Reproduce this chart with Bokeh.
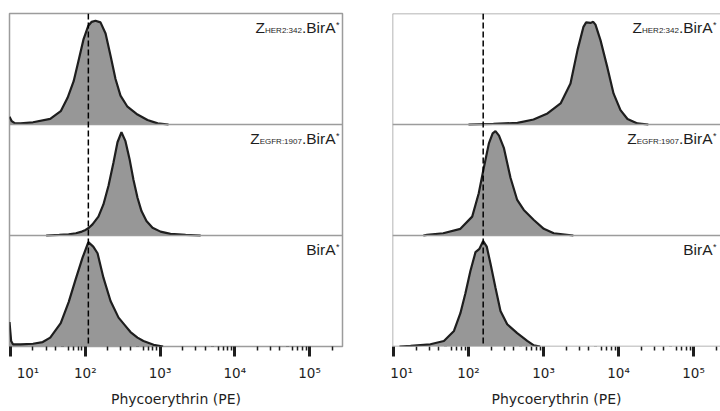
from bokeh.plotting import figure
from bokeh.models import Range1d, Span, Label, LogAxis, FixedTicker, ColumnDataSource
from bokeh.layouts import row
from bokeh.embed import file_html
from bokeh.resources import INLINE

# ---------------- data ----------------
axis_title = "Phycoerythrin (PE)"
decade_ticks = [10, 100, 1000, 10000, 100000]
decade_labels = ["\u2003\u200910\u00b9", "10\u00b2", "10\u00b3", "10\u2074", "10\u2075"]
minor_ticks = [20, 30, 40, 60, 70, 80, 90,
               200, 300, 400, 600, 700, 800, 900,
               2000, 3000, 4000, 6000, 7000, 8000, 9000,
               20000, 30000, 40000, 60000, 70000, 80000, 90000,
               200000]
half_ticks = [50, 500, 5000, 50000]

# rows from top to bottom: binder name in subscript (None = BirA* alone)
row_binders = ["HER2:342", "EGFR:1907", None]

# left column, histograms: x = PE intensity, h = relative count (fraction of panel height)
L_her2_x = [9.7, 10.4, 11.5, 13.6, 20, 34, 47, 58, 70, 81, 95, 110, 122, 137, 160, 187, 218, 254, 296, 367, 500, 680, 930, 1300]
L_her2_h = [0.07, 0.03, 0.01, 0.01, 0.02, 0.05, 0.12, 0.24, 0.39, 0.57, 0.77, 0.89, 0.925, 0.935, 0.92, 0.82, 0.62, 0.41, 0.26, 0.16, 0.09, 0.04, 0.01, 0]
L_egfr_x = [30, 45, 60, 75, 90, 101, 112, 125, 150, 175, 205, 239, 270, 305, 345, 391, 442, 500, 565, 659, 794, 1016, 1381, 2200, 3500]
L_egfr_h = [0, 0.005, 0.01, 0.02, 0.035, 0.05, 0.07, 0.10, 0.17, 0.28, 0.45, 0.66, 0.84, 0.93, 0.85, 0.69, 0.50, 0.34, 0.22, 0.13, 0.07, 0.035, 0.015, 0.005, 0]
L_bira_x = [9.7, 10.2, 10.8, 13.6, 20, 27, 34, 47, 60, 74, 92, 110, 128, 146, 175, 218, 279, 340, 403, 500, 600, 820, 1100]
L_bira_h = [0.22, 0.05, 0.02, 0.02, 0.025, 0.04, 0.08, 0.21, 0.40, 0.60, 0.80, 0.94, 0.90, 0.84, 0.62, 0.41, 0.26, 0.19, 0.13, 0.08, 0.05, 0.015, 0]
L_control_peak = 110

# right column
R_her2_x = [100, 215, 450, 736, 1130, 1690, 2290, 2840, 3410, 3700, 4230, 4600, 4930, 5750, 7130, 8580, 10630, 13180, 17900, 25000]
R_her2_h = [0, 0.005, 0.015, 0.045, 0.10, 0.19, 0.37, 0.67, 0.88, 0.92, 0.915, 0.925, 0.90, 0.76, 0.51, 0.28, 0.13, 0.05, 0.01, 0]
R_egfr_x = [25, 28, 46, 78, 112, 137, 160, 187, 210, 229, 255, 296, 363, 446, 546, 743, 1009, 1371, 2500]
R_egfr_h = [0, 0.005, 0.02, 0.06, 0.17, 0.38, 0.61, 0.83, 0.92, 0.94, 0.90, 0.79, 0.52, 0.32, 0.23, 0.14, 0.06, 0.02, 0]
R_bira_x = [12, 16.9, 31, 47, 64, 78, 91, 106, 124, 140, 157, 175, 196, 229, 267, 328, 446, 607, 743, 900]
R_bira_h = [0, 0.005, 0.02, 0.05, 0.14, 0.30, 0.48, 0.68, 0.85, 0.88, 0.95, 0.90, 0.75, 0.53, 0.32, 0.20, 0.12, 0.05, 0.01, 0]
R_control_peak = 157

# ---------------- styling helpers ----------------
FILL = "#979797"
FRAME = "#9c9c9c"
INK = "#1e1e1e"

ARIAL_W = {'Z': 611, 'H': 722, 'E': 667, 'R': 722, '2': 556, ':': 278, '3': 556, '4': 556,
           'G': 778, 'F': 611, '1': 556, '9': 556, '0': 556, '7': 556, '.': 278,
           'B': 667, 'i': 222, 'r': 333, 'A': 667, '*': 389}


def tw(s, size):
    return sum(ARIAL_W.get(c, 556) for c in s) / 1000.0 * size


def add_label(p, x_end, y, text, size, off, yoff):
    p.add_layout(Label(x=x_end, y=y, text=text, x_offset=off, y_offset=yoff,
                       text_align="right", text_baseline="alphabetic",
                       text_font="Liberation Sans", text_font_size=f"{size}px",
                       text_color=INK))


def panel_labels(p, x_end, pad):
    main, sub, sup = 15.5, 8, 9
    for i, binder in enumerate(row_binders):
        y = 3 - i
        off = pad
        add_label(p, x_end, y, "*", sup, off, -11)
        off -= tw("*", sup) + 0.5
        add_label(p, x_end, y, "BirA", main, off, -14)
        off -= tw("BirA", main)
        if binder:
            add_label(p, x_end, y, ".", main, off, -14)
            off -= tw(".", main)
            add_label(p, x_end, y, binder, sub, off, -16.5)
            off -= tw(binder, sub)
            add_label(p, x_end, y, "Z", main, off, -14)


def make_column(x_start, x_end, width, bl, br, hists, control, pad, full_outline):
    p = figure(width=width, height=410, x_axis_type="log",
               x_range=Range1d(x_start, x_end), y_range=Range1d(0, 3),
               y_axis_location=None, output_backend="svg", toolbar_location=None,
               min_border_left=bl, min_border_right=br, min_border_top=13, min_border_bottom=64)
    p.grid.grid_line_color = None
    p.background_fill_color = "white"
    p.border_fill_color = "white"
    if full_outline:
        p.outline_line_color = FRAME
        p.outline_line_width = 1.5
    else:
        # panel continues past the right edge of the picture: no right-hand border
        p.outline_line_color = None
        for loc in (0, 3):
            p.add_layout(Span(location=loc, dimension="width", line_color=FRAME, line_width=1.5))
        p.add_layout(Span(location=x_start, dimension="height", line_color=FRAME, line_width=1.5))

    ax = p.xaxis[0]
    ax.ticker = FixedTicker(ticks=decade_ticks, minor_ticks=minor_ticks)
    ax.major_label_overrides = {t: s for t, s in zip(decade_ticks, decade_labels)}
    ax.axis_line_color = None
    ax.major_tick_in = 0
    ax.major_tick_out = 10
    ax.major_tick_line_width = 3
    ax.major_tick_line_color = INK
    ax.minor_tick_in = 0
    ax.minor_tick_out = 4
    ax.minor_tick_line_width = 1.5
    ax.minor_tick_line_color = INK
    ax.major_label_text_font = "DejaVu Sans"
    ax.major_label_text_font_size = "13.5px"
    ax.major_label_text_color = INK
    ax.major_label_standoff = 8
    ax.axis_label = axis_title
    ax.axis_label_text_font = "DejaVu Sans"
    ax.axis_label_text_font_size = "14px"
    ax.axis_label_text_font_style = "normal"
    ax.axis_label_text_color = INK
    ax.axis_label_standoff = 7

    hax = LogAxis(ticker=FixedTicker(ticks=half_ticks, minor_ticks=[]), fixed_location=0,
                  major_tick_in=0, major_tick_out=7, major_tick_line_width=3,
                  major_tick_line_color=INK, minor_tick_line_color=None,
                  axis_line_color=None, major_label_text_color=None)
    p.add_layout(hax, "below")

    for i, (xs, hs) in enumerate(hists):
        base = 2 - i
        src = ColumnDataSource(dict(x=xs, base=[base] * len(xs), top=[base + h for h in hs]))
        p.varea(x="x", y1="base", y2="top", source=src, fill_color=FILL)
        p.line(x="x", y="top", source=src, line_color=INK, line_width=2.2)

    for loc in (1, 2):
        p.add_layout(Span(location=loc, dimension="width", line_color=FRAME, line_width=1.5))
    p.add_layout(Span(location=control, dimension="height", line_color="black",
                      line_dash="6 3", line_width=1.5))
    panel_labels(p, x_end, pad)
    return p


left = make_column(9.7, 2.76e5, 368, 9, 26,
                   [(L_her2_x, L_her2_h), (L_egfr_x, L_egfr_h), (L_bira_x, L_bira_h)],
                   L_control_peak, -3, True)
right = make_column(9.7, 2.29e5, 352, 24, 0,
                    [(R_her2_x, R_her2_h), (R_egfr_x, R_egfr_h), (R_bira_x, R_bira_h)],
                    R_control_peak, -4, False)

layout = row(left, right)
open("out.html", "w").write(file_html(layout, INLINE))
